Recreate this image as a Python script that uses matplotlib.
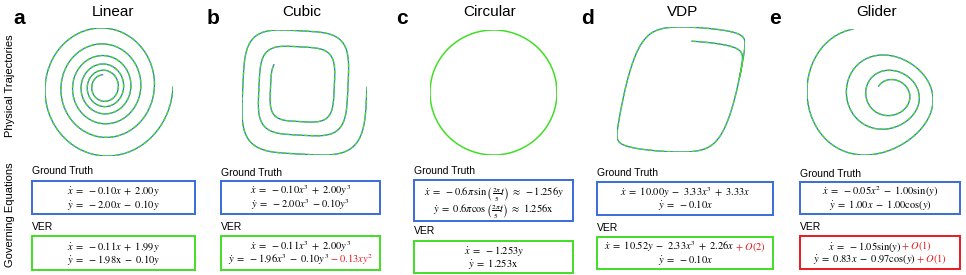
import matplotlib
matplotlib.use("Agg")
import matplotlib.pyplot as plt
from matplotlib.patches import Rectangle
import numpy as np

plt.rcParams['font.family'] = ['Liberation Sans', 'DejaVu Sans']
plt.rcParams['mathtext.fontset'] = 'stix'

W, H = 966, 275

# ---- data -------------------------------------------------------------
panel_letters = ["a", "b", "c", "d", "e"]
panel_titles = ["Linear", "Cubic", "Circular", "VDP", "Glider"]

# ground-truth coefficients of each system
linear_coef = [-0.10, 2.00, -2.00, -0.10]        # xdot = a x + b y ; ydot = c x + d y
cubic_coef = [-0.10, 2.00, -2.00, -0.10]         # same with cubes
circular_coef = [-1.256, 1.256]                  # xdot = a y ; ydot = b x
vdp_coef = [10.00, -3.33, 3.33, -0.10]           # xdot = a y + b x^3 + c x ; ydot = d x
glider_coef = [-0.05, -1.00, 1.00, -1.00]        # xdot = a x^2 + b sin y ; ydot = c x + d cos y

# initial states and simulated time span
init_states = [(2.0, 0.0), (2.0, 0.0), (1.0, 0.0), (0.2, 0.15), (0.5, 0.85)]
t_ends = [18.0, 6.5, 5.1, 10.5, 20.0]

S = r"\ "
gt_lines = [
    [rf"$\dot{{x}}{S}={S}-0.10x{S}+{S}2.00y$", rf"$\dot{{y}}{S}={S}-2.00x{S}-{S}0.10y$"],
    [rf"$\dot{{x}}{S}={S}-0.10x^3{S}+{S}2.00y^3$", rf"$\dot{{y}}{S}={S}-2.00x^3{S}-0.10y^3$"],
    [rf"$\dot{{x}}{S}={S}-0.6\pi\,\sin\left(\frac{{2\pi}}{{5}}t\right){S}\approx{S}-1.256y$",
     rf"$\dot{{y}}{S}={S}0.6\pi\cos\left(\frac{{2\pi}}{{5}}t\right){S}\approx{S}1.256\mathrm{{x}}$"],
    [rf"$\dot{{x}}{S}={S}10.00y{S}-{S}3.33x^3{S}+{S}3.33x$", rf"$\dot{{y}}{S}={S}-0.10x$"],
    [rf"$\dot{{x}}{S}={S}-0.05x^2{S}-{S}1.00\sin(y)$", rf"$\dot{{y}}{S}={S}1.00x{S}-{S}1.00\cos(y)$"],
]
# each VER line is a list of (text, is_extra_term)
ver_lines = [
    [[(rf"$\dot{{x}}{S}={S}-0.11x{S}+{S}1.99y$", False)],
     [(rf"$\dot{{y}}{S}={S}-1.98\mathrm{{x}}{S}-{S}0.10y$", False)]],
    [[(rf"$\dot{{x}}{S}={S}-0.11x^3{S}+{S}2.00y^3$", False)],
     [(rf"$\dot{{y}}{S}={S}-1.96x^3{S}-{S}0.10y^3{S}$", False), (rf"$-{S}0.13xy^2$", True)]],
    [[(rf"$\dot{{x}}{S}={S}-1.253y$", False)], [(rf"$\dot{{y}}{S}={S}1.253\mathrm{{x}}$", False)]],
    [[(rf"$\dot{{x}}{S}={S}10.52y{S}-{S}2.33x^3{S}+{S}2.26x{S}$", False), (rf"$+{S}O(2)$", True)],
     [(rf"$\dot{{y}}{S}={S}-0.10x$", False)]],
    [[(rf"$\dot{{x}}{S}={S}-1.05\sin(y){S}$", False), (rf"$+{S}O(1)$", True)],
     [(rf"$\dot{{y}}{S}={S}0.83x{S}-{S}0.97\cos(y){S}$", False), (rf"$+{S}O(1)$", True)]],
]
ver_ok = [True, True, True, True, False]

# ---- layout (pixels) --------------------------------------------------
traj_boxes = [(45, 28, 173, 156), (242, 30, 367, 155), (430, 30, 557, 155),
              (617, 27, 745, 152), (807, 29, 933, 155)]
title_x = [113, 302, 490, 683, 877]
letter_x = [19, 213, 402, 587, 775]
box_x = [(32, 195), (221, 380), (414, 573), (597, 773), (800, 960)]
gt_box_y = [(181, 214), (181, 214), (180, 221), (182, 215), (182, 214)]
ver_box_y = [(236, 270), (236, 270), (241, 273), (237, 269), (236, 269)]
gt_label_y = [171, 173, 171, 173, 174]
ver_label_y = [227, 227, 231, 228, 227]

BLUE = "#3a6cd9"
GREEN = "#42de26"
RED = "#e8191e"


def fx(px):
    return px / W


def fy(py):
    return 1 - py / H


def rk4(f, s0, t_end, dt=0.001):
    n = int(t_end / dt)
    out = np.empty((n + 1, 2))
    s = np.array(s0, dtype=float)
    out[0] = s
    for i in range(n):
        k1 = f(s)
        k2 = f(s + 0.5 * dt * k1)
        k3 = f(s + 0.5 * dt * k2)
        k4 = f(s + dt * k3)
        s = s + dt / 6 * (k1 + 2 * k2 + 2 * k3 + k4)
        out[i + 1] = s
    return out


def f_linear(s):
    a, b, c, d = linear_coef
    return np.array([a * s[0] + b * s[1], c * s[0] + d * s[1]])


def f_cubic(s):
    a, b, c, d = cubic_coef
    return np.array([a * s[0] ** 3 + b * s[1] ** 3, c * s[0] ** 3 + d * s[1] ** 3])


def f_circ(s):
    a, b = circular_coef
    return np.array([a * s[1], b * s[0]])


def f_vdp(s):
    a, b, c, d = vdp_coef
    return np.array([a * s[1] + b * s[0] ** 3 + c * s[0], d * s[0]])


def f_glider(s):
    a, b, c, d = glider_coef
    return np.array([a * s[0] ** 2 + b * np.sin(s[1]), c * s[0] + d * np.cos(s[1])])


systems = [f_linear, f_cubic, f_circ, f_vdp, f_glider]

fig = plt.figure(figsize=(W / 100, H / 100), dpi=100)
renderer = fig.canvas.get_renderer()


def eq_line(cx, cy, parts, size=7.5):
    texts = []
    for s, c in parts:
        texts.append(fig.text(0, fy(cy + 3.5), s, color=c, fontsize=size,
                              ha="left", va="baseline"))
    widths = [t.get_window_extent(renderer).width for t in texts]
    x = cx - sum(widths) / 2
    for t, w in zip(texts, widths):
        t.set_x(fx(x))
        x += w


def add_box(x0, x1, y0, y1, color):
    fig.add_artist(Rectangle((fx(x0), fy(y1)), (x1 - x0) / W, (y1 - y0) / H,
                             transform=fig.transFigure, fill=False,
                             edgecolor=color, linewidth=1.4))


fig.text(fx(10), fy(86), "Physical Trajectories", rotation=90, fontsize=8,
         ha="center", va="center")
fig.text(fx(10), fy(215), "Governing Equations", rotation=90, fontsize=8,
         ha="center", va="center")

for i in range(5):
    fig.text(fx(letter_x[i]), fy(18), panel_letters[i], fontsize=15,
             fontweight="bold", ha="center", va="center")
    fig.text(fx(title_x[i]), fy(12), panel_titles[i], fontsize=11,
             ha="center", va="center")

    # trajectory
    x0, y0, x1, y1 = traj_boxes[i]
    ax = fig.add_axes([fx(x0), fy(y1), (x1 - x0) / W, (y1 - y0) / H])
    traj = rk4(systems[i], init_states[i], t_ends[i])
    if i == 2:
        ax.plot(traj[:, 0], traj[:, 1], color=GREEN, lw=1.1)
    else:
        ax.plot(traj[:, 0], traj[:, 1], color=BLUE, lw=0.9)
        ax.plot(traj[:, 0], traj[:, 1], color=GREEN, lw=1.0, dashes=(3, 1.5))
    ax.set_xlim(traj[:, 0].min(), traj[:, 0].max())
    ax.set_ylim(traj[:, 1].min(), traj[:, 1].max())
    ax.axis("off")

    # equations
    bx0, bx1 = box_x[i]
    cx = (bx0 + bx1) / 2
    fig.text(fx(bx0), fy(gt_label_y[i]), "Ground Truth", fontsize=7.5,
             ha="left", va="center")
    gy0, gy1 = gt_box_y[i]
    add_box(bx0, bx1, gy0, gy1, BLUE)
    gc = (gy0 + gy1) / 2
    step = 13 if i != 2 else 17
    for k, s in enumerate(gt_lines[i]):
        eq_line(cx, gc + (k - 0.5) * step, [(s, "black")])

    fig.text(fx(bx0), fy(ver_label_y[i]), "VER", fontsize=7.5,
             ha="left", va="center")
    vy0, vy1 = ver_box_y[i]
    add_box(bx0, bx1, vy0, vy1, GREEN if ver_ok[i] else RED)
    vc = (vy0 + vy1) / 2
    for k, parts in enumerate(ver_lines[i]):
        eq_line(cx, vc + (k - 0.5) * 13,
                [(s, RED if extra else "black") for s, extra in parts])

fig.savefig("out.png", dpi=100)
